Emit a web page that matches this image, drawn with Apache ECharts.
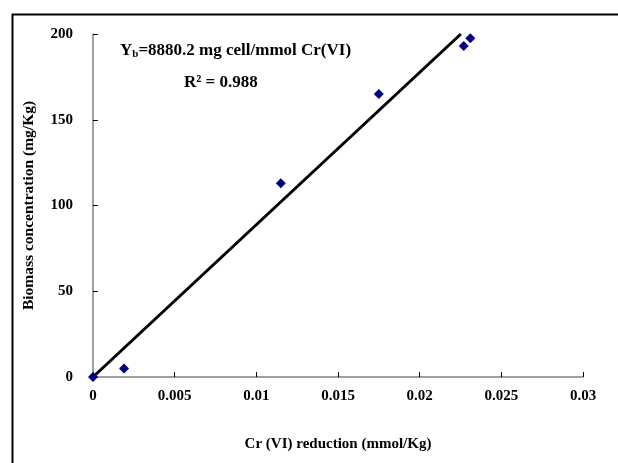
<!DOCTYPE html>
<html><head><meta charset="utf-8">
<script src="https://cdn.jsdelivr.net/npm/echarts@6/dist/echarts.min.js"></script>
<style>html,body{margin:0;padding:0;background:#fff}#c{width:618px;height:463px}</style>
</head><body><div id="c"></div>
<script>
const crReduction = [0, 0.0019, 0.0115, 0.0175, 0.0227, 0.0231];
const biomass = [0, 5, 113, 165, 193, 197.5];
const slope = 8880.2;
const fitX = [0, 200 / 8880.2];
const xTitle = 'Cr (VI) reduction (mmol/Kg)';
const yTitle = 'Biomass concentration (mg/Kg)';
const F = '"Liberation Serif","Times New Roman",serif';
const chart = echarts.init(document.getElementById('c'));
chart.setOption({
  animation: false,
  backgroundColor: '#fff',
  grid: {left: 93, right: 35, top: 34, bottom: 86},
  xAxis: {
    type: 'value', min: 0, max: 0.03, interval: 0.005,
    splitLine: {show: false},
    axisLine: {lineStyle: {color: '#808080', width: 1.5}},
    axisTick: {inside: true, length: 5, lineStyle: {color: '#000'}},
    axisLabel: {color: '#000', fontFamily: F, fontWeight: 'bold', fontSize: 15, margin: 12,
      formatter: v => String(+v.toFixed(3))},
    name: xTitle, nameLocation: 'middle', nameGap: 60,
    nameTextStyle: {color: '#000', fontFamily: F, fontWeight: 'bold', fontSize: 15}
  },
  yAxis: {
    type: 'value', min: 0, max: 200, interval: 50,
    splitLine: {show: false},
    axisLine: {show: true, lineStyle: {color: '#808080', width: 1.5}},
    axisTick: {show: true, inside: true, length: 5, lineStyle: {color: '#000'}},
    axisLabel: {color: '#000', fontFamily: F, fontWeight: 'bold', fontSize: 15, margin: 20},
    name: yTitle, nameLocation: 'middle', nameGap: 56,
    nameTextStyle: {color: '#000', fontFamily: F, fontWeight: 'bold', fontSize: 15.5}
  },
  series: [
    {type: 'line', data: fitX.map(x => [x, slope * x]), symbol: 'none',
     lineStyle: {color: '#000', width: 3}, z: 2},
    {type: 'scatter', data: crReduction.map((x, i) => [x, biomass[i]]),
     symbol: 'diamond', symbolSize: 10, itemStyle: {color: '#000080', opacity: 1}, z: 3}
  ],
  graphic: [
    {type: 'rect', left: 10, top: 12, shape: {width: 700, height: 600},
     style: {fill: 'none', stroke: '#000', lineWidth: 2}, silent: true},
    {type: 'text', left: 120, top: 42,
     style: {text: '{a|Y}{s|b}{a|=8880.2 mg cell/mmol Cr(VI)}',
       rich: {a: {fontFamily: F, fontWeight: 'bold', fontSize: 17, fill: '#000'},
              s: {fontFamily: F, fontWeight: 'bold', fontSize: 11, fill: '#000', verticalAlign: 'bottom', padding: [8, 0, 0, 0]}}}},
    {type: 'text', left: 184, top: 74,
     style: {text: 'R² = 0.988', fontFamily: F, fontWeight: 'bold', fontSize: 17, fill: '#000'}}
  ]
});
</script></body></html>
